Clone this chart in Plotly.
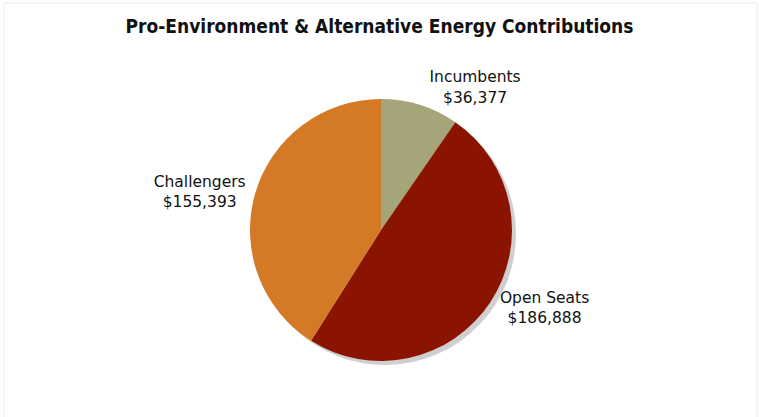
import plotly.graph_objects as go

categories = ["Incumbents", "Open Seats", "Challengers"]
values = [36377, 186888, 155393]
colors = ["#a6a57a", "#8b1400", "#d47a27"]
title = "Pro-Environment & Alternative Energy Contributions"

W, H = 759, 417
cx, cy, r = 381, 230, 131

def dom(cx, cy, r):
    return dict(x=[(cx - r) / W, (cx + r) / W],
                y=[(H - cy - r) / H, (H - cy + r) / H])

fig = go.Figure()
# shadow
fig.add_trace(go.Pie(
    values=values, labels=categories, sort=False, direction="clockwise",
    rotation=0, marker=dict(colors=["#cfcfcf"] * 3, line=dict(width=0)),
    textinfo="none", hoverinfo="skip", showlegend=False,
    domain=dom(cx + 4, cy + 4, r),
))
fig.add_trace(go.Pie(
    values=values, labels=categories, sort=False, direction="clockwise",
    rotation=0, marker=dict(colors=colors, line=dict(width=0)),
    texttemplate="%{label}<br>$%{value:,}", textposition="outside",
    textfont=dict(family="DejaVu Sans", size=15.5, color="#111111"),
    showlegend=False, domain=dom(cx, cy, r),
))
fig.update_layout(
    width=W, height=H, margin=dict(l=0, r=0, t=0, b=0),
    paper_bgcolor="white",
    title=dict(text="<b>" + title + "</b>", x=0.5, xanchor="center",
               y=1 - 26 / H, yanchor="middle",
               font=dict(family="DejaVu Sans Condensed, DejaVu Sans", size=19, color="#111111")),
    shapes=[dict(type="rect", xref="paper", yref="paper",
                 x0=4 / W, x1=757 / W, y0=-0.1, y1=1 - 3 / H,
                 line=dict(color="#ececec", width=1))],
)
fig.write_html("out.html")
